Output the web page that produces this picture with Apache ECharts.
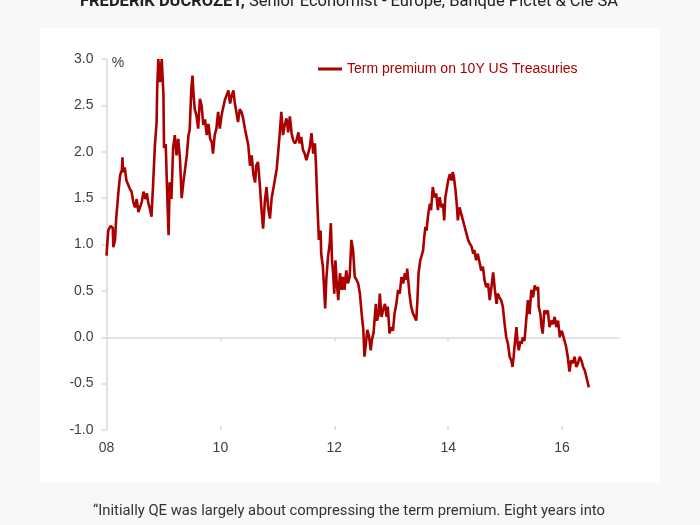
<!DOCTYPE html>
<html>
<head>
<meta charset="utf-8">
<script src="https://cdn.jsdelivr.net/npm/echarts@6/dist/echarts.min.js"></script>
<style>
html,body{margin:0;padding:0;background:#f8f8f8;}
#chart{width:700px;height:525px;}
</style>
</head>
<body>
<div id="chart"></div>
<script>
// Decimal years (x) and term premium in % (y)
const dates = [
2008.00,2008.03,2008.07,2008.11,2008.12,2008.15,2008.17,2008.21,2008.24,2008.27,2008.28,2008.29,2008.32,2008.35,2008.38,2008.41,2008.44,2008.47,2008.50,2008.53,2008.56,2008.59,2008.62,2008.65,2008.68,2008.71,2008.73,2008.76,2008.79,2008.82,2008.85,2008.88,2008.89,2008.91,2008.94,2008.97,
2009.00,2009.01,2009.04,2009.07,2009.09,2009.11,2009.14,2009.17,2009.20,2009.23,2009.26,2009.29,2009.32,2009.35,2009.38,2009.41,2009.44,2009.46,2009.49,2009.51,2009.53,2009.55,2009.58,2009.61,2009.64,2009.67,2009.70,2009.73,2009.76,2009.79,2009.82,2009.85,2009.87,2009.90,2009.93,2009.96,2009.99,
2010.02,2010.05,2010.08,2010.11,2010.14,2010.17,2010.20,2010.23,2010.25,2010.28,2010.31,2010.34,2010.37,2010.40,2010.43,2010.46,2010.49,2010.52,2010.55,2010.58,2010.61,2010.63,2010.66,2010.69,2010.72,2010.75,2010.78,2010.81,2010.84,2010.87,2010.90,2010.93,2010.96,2010.99,
2011.01,2011.04,2011.07,2011.10,2011.13,2011.16,2011.19,2011.22,2011.25,2011.28,2011.31,2011.34,2011.37,2011.39,2011.42,2011.45,2011.48,2011.51,2011.54,2011.57,2011.60,2011.63,2011.66,2011.68,2011.70,2011.72,2011.73,2011.76,2011.77,2011.80,2011.82,2011.84,2011.86,2011.89,2011.92,2011.94,2011.96,2011.98,
2012.00,2012.02,2012.04,2012.07,2012.10,2012.13,2012.15,2012.18,2012.21,2012.24,2012.27,2012.30,2012.33,2012.36,2012.39,2012.42,2012.45,2012.48,2012.51,2012.53,2012.55,2012.58,2012.61,2012.64,2012.66,2012.69,2012.73,2012.75,2012.78,2012.80,2012.83,2012.86,2012.89,2012.92,2012.94,2012.97,
2013.00,2013.03,2013.06,2013.09,2013.12,2013.15,2013.18,2013.21,2013.24,2013.27,2013.28,2013.31,2013.32,2013.35,2013.38,2013.41,2013.44,2013.46,2013.48,2013.51,2013.53,2013.56,2013.58,2013.60,2013.62,2013.65,2013.68,2013.70,2013.73,2013.76,2013.79,2013.82,2013.85,2013.88,2013.91,2013.93,2013.95,2013.97,
2014.00,2014.03,2014.06,2014.08,2014.10,2014.13,2014.15,2014.17,2014.20,2014.23,2014.26,2014.29,2014.32,2014.35,2014.38,2014.41,2014.44,2014.46,2014.49,2014.52,2014.55,2014.58,2014.61,2014.64,2014.67,2014.70,2014.73,2014.76,2014.79,2014.82,2014.85,2014.87,2014.90,2014.93,2014.96,2014.99,
2015.02,2015.05,2015.08,2015.11,2015.13,2015.15,2015.17,2015.20,2015.22,2015.24,2015.27,2015.29,2015.31,2015.34,2015.37,2015.40,2015.43,2015.46,2015.49,2015.52,2015.54,2015.58,2015.59,2015.62,2015.64,2015.66,2015.69,2015.72,2015.75,2015.78,2015.81,2015.84,2015.87,2015.90,2015.93,2015.96,2015.99,
2016.01,2016.04,2016.07,2016.10,2016.13,2016.16,2016.19,2016.22,2016.25,2016.28,2016.31,2016.34,2016.37,2016.40,2016.42,2016.45,2016.47
];
const values = [
0.88,1.15,1.20,1.18,0.97,1.05,1.28,1.57,1.75,1.80,1.94,1.78,1.83,1.69,1.71,1.60,1.57,1.46,1.40,1.49,1.35,1.33,1.46,1.57,1.49,1.55,1.46,1.39,1.30,1.67,2.07,2.32,2.68,3.00,2.75,3.00,
2.61,2.04,2.08,1.46,1.10,1.67,1.49,2.04,2.18,1.96,2.14,1.93,1.50,1.67,1.81,1.96,2.18,2.23,2.68,2.82,2.60,2.46,2.39,2.25,2.57,2.50,2.29,2.35,2.18,2.30,2.14,2.10,1.98,2.18,2.25,2.43,2.25,
2.39,2.48,2.56,2.61,2.66,2.52,2.61,2.66,2.54,2.56,2.32,2.46,2.43,2.36,2.25,2.23,2.07,1.85,1.96,1.75,1.67,1.85,1.89,1.67,1.39,1.17,1.46,1.62,1.39,1.28,1.50,1.60,1.71,1.82,
1.96,2.18,2.43,2.18,2.29,2.36,2.21,2.38,2.20,2.12,2.09,2.13,2.21,2.09,2.16,2.02,1.98,1.91,1.98,2.05,2.20,1.98,2.09,1.84,1.48,1.19,1.05,1.15,0.90,0.76,0.54,0.31,0.62,0.87,1.01,1.23,0.83,0.69,
0.47,0.83,0.62,0.40,0.69,0.51,0.65,0.51,0.72,0.58,0.65,1.05,0.94,0.65,0.62,0.58,0.47,0.26,0.08,-0.21,-0.10,0.08,0.01,-0.14,-0.03,0.05,0.36,0.18,0.25,0.47,0.22,0.30,0.36,0.22,0.33,0.04,
0.11,0.07,0.26,0.36,0.51,0.47,0.65,0.58,0.69,0.62,0.74,0.54,0.47,0.33,0.26,0.22,0.18,0.40,0.69,0.83,0.87,0.94,1.08,1.19,1.15,1.33,1.44,1.37,1.62,1.51,1.55,1.37,1.51,1.40,1.44,1.26,1.51,1.58,
1.69,1.76,1.69,1.78,1.73,1.58,1.44,1.26,1.40,1.33,1.33,1.19,1.12,1.05,1.01,0.98,0.90,0.94,0.83,0.90,0.88,0.72,0.76,0.61,0.54,0.58,0.40,0.54,0.70,0.51,0.36,0.47,0.43,0.40,0.33,0.15,
0.00,-0.07,-0.21,-0.25,-0.32,-0.21,-0.07,0.11,-0.07,-0.14,-0.04,-0.07,0.00,-0.04,0.18,0.40,0.25,0.51,0.43,0.56,0.51,0.54,0.33,0.25,0.11,0.04,0.29,0.25,0.29,0.11,0.18,0.14,0.22,0.11,0.18,0.00,0.07,
0.04,-0.03,-0.10,-0.21,-0.37,-0.25,-0.28,-0.21,-0.32,-0.28,-0.21,-0.25,-0.32,-0.36,-0.41,-0.43,-0.54
];
const seriesName = 'Term premium on 10Y US Treasuries';
const xTickYears = [2008, 2010, 2012, 2014, 2016];
const xTickLabels = ['08', '10', '12', '14', '16'];
const headerName = 'FREDERIK DUCROZET,';
const headerRest = ' Senior Economist - Europe, Banque Pictet & Cie SA';
const quoteLine1 = '\u201CInitially QE was largely about compressing the term premium. Eight years into';

const points = dates.map((d, i) => [d, values[i]]);
const font = '"Liberation Sans", Arial, sans-serif';
const axisGray = '#d9d9d9';
const labelGray = '#404040';
const red = '#aa0000';

const chart = echarts.init(document.getElementById('chart'), null, {renderer: 'canvas'});
const xBase = {type: 'value', min: 2008, max: 2017, splitLine: {show: false}, gridIndex: 0};
chart.setOption({
  animation: false,
  backgroundColor: '#f8f8f8',
  textStyle: {fontFamily: font},
  graphic: [
    {type: 'rect', z: -100, silent: true, shape: {x: 40, y: 28, width: 620, height: 455}, style: {fill: '#ffffff'}},
    {type: 'text', x: 349, y: -7, silent: true, style: {
      text: '{b|' + headerName + '}' + headerRest,
      align: 'center', verticalAlign: 'top', fill: '#222222',
      font: '16.5px Roboto', rich: {b: {fontWeight: 'bold', fontSize: 16.5, fontFamily: 'Roboto', fill: '#222222'}}
    }},
    {type: 'text', x: 349, y: 511, silent: true, style: {
      text: quoteLine1, align: 'center', verticalAlign: 'middle', fill: '#333333', font: '14.8px Roboto'
    }},
    {type: 'text', x: 118, y: 63, silent: true, style: {
      text: '%', align: 'center', verticalAlign: 'middle', fill: labelGray, font: '14px "Liberation Sans", Arial'
    }}
  ],
  grid: {left: 106.5, right: 81, top: 59, bottom: 95, containLabel: false},
  legend: {
    data: [seriesName], left: 318, top: 62, padding: 0,
    icon: 'rect', itemWidth: 24, itemHeight: 3,
    textStyle: {color: red, fontSize: 14, fontFamily: font}
  },
  xAxis: [
    Object.assign({}, xBase, {
      position: 'bottom',
      axisLine: {show: true, onZero: true, lineStyle: {color: axisGray, width: 1.5}},
      axisTick: {show: true, inside: false, length: 4, customValues: xTickYears.slice(1), lineStyle: {color: axisGray, width: 1.5}},
      axisLabel: {show: false}
    }),
    Object.assign({}, xBase, {
      position: 'bottom',
      axisLine: {show: false, onZero: true},
      axisTick: {show: true, inside: true, length: 4, customValues: xTickYears.slice(1), lineStyle: {color: axisGray, width: 1.5}},
      axisLabel: {show: false}
    }),
    Object.assign({}, xBase, {
      position: 'bottom',
      axisLine: {show: false, onZero: false},
      axisTick: {show: false},
      axisLabel: {
        show: true, margin: 11, color: labelGray, fontSize: 14, fontFamily: font,
        customValues: xTickYears,
        formatter: v => xTickLabels[xTickYears.indexOf(Math.round(v))] || ''
      }
    })
  ],
  yAxis: {
    type: 'value', min: -1, max: 3, interval: 0.5,
    axisLine: {show: true, onZero: false, lineStyle: {color: axisGray, width: 1.5}},
    axisTick: {show: true, length: 5, lineStyle: {color: axisGray, width: 1.5}},
    splitLine: {show: false},
    axisLabel: {margin: 13, color: labelGray, fontSize: 14, fontFamily: font, formatter: v => v.toFixed(1)}
  },
  series: [{
    name: seriesName, type: 'line', xAxisIndex: 0, yAxisIndex: 0,
    data: points, showSymbol: false, symbol: 'none',
    lineStyle: {color: red, width: 2.6}, itemStyle: {color: red},
    clip: true
  }]
});
</script>
</body>
</html>
